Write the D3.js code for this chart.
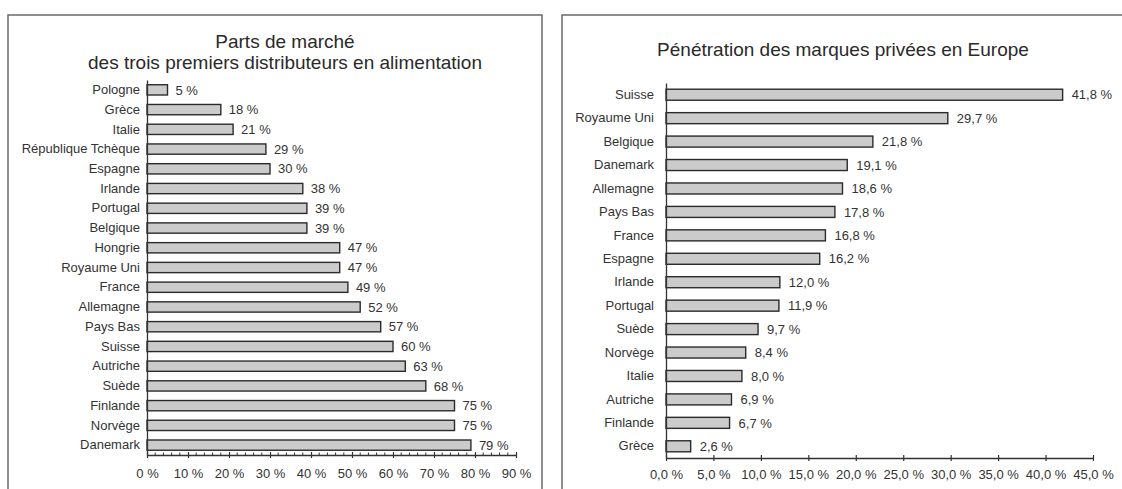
<!DOCTYPE html>
<html>
<head>
<meta charset="utf-8">
<script src="https://cdn.jsdelivr.net/npm/d3@7"></script>
<style>
  html, body { margin: 0; padding: 0; background: #fff; }
  svg { display: block; font-family: "Liberation Sans", Arial, Helvetica, sans-serif; }
</style>
</head>
<body>
<svg id="chart" width="1122" height="489"></svg>
<script>
// Parts de marché des trois premiers distributeurs
const partsPays = ["Pologne", "Grèce", "Italie", "République Tchèque", "Espagne", "Irlande",
  "Portugal", "Belgique", "Hongrie", "Royaume Uni", "France", "Allemagne", "Pays Bas",
  "Suisse", "Autriche", "Suède", "Finlande", "Norvège", "Danemark"];
const partsValeurs = [5, 18, 21, 29, 30, 38, 39, 39, 47, 47, 49, 52, 57, 60, 63, 68, 75, 75, 79];
const partsTicks = [0, 10, 20, 30, 40, 50, 60, 70, 80, 90];

// Pénétration des marques privées
const mdpPays = ["Suisse", "Royaume Uni", "Belgique", "Danemark", "Allemagne", "Pays Bas",
  "France", "Espagne", "Irlande", "Portugal", "Suède", "Norvège", "Italie", "Autriche",
  "Finlande", "Grèce"];
const mdpValeurs = [41.8, 29.7, 21.8, 19.1, 18.6, 17.8, 16.8, 16.2, 12.0, 11.9, 9.7, 8.4, 8.0, 6.9, 6.7, 2.6];
const mdpTicks = [0, 5, 10, 15, 20, 25, 30, 35, 40, 45];

const svg = d3.select("#chart");
const fr = d3.format(".1f");
const frComma = v => fr(v).replace(".", ",");
const FONT = "'Liberation Sans', Arial, sans-serif";

function panel(cfg) {
  const g = svg.append("g");
  // frame
  g.append("rect")
    .attr("x", cfg.frame[0]).attr("y", cfg.frame[1])
    .attr("width", cfg.frame[2]).attr("height", cfg.frame[3])
    .attr("fill", "none").attr("stroke", "#6a6a6a").attr("stroke-width", 1.5);

  // title
  cfg.title.forEach((t, i) => {
    g.append("text")
      .attr("x", cfg.titleX).attr("y", cfg.titleY + i * 20.5)
      .attr("text-anchor", "middle")
      .attr("font-size", 19).attr("fill", "#2a2a2a")
      .text(t);
  });

  const x = d3.scaleLinear().domain(cfg.domain).range([cfg.x0, cfg.x1]);
  const y = d3.scaleBand().domain(cfg.cats).range([cfg.y0, cfg.y1]).paddingInner(cfg.pad).paddingOuter(cfg.pad / 2);

  // bars
  g.selectAll("rect.bar").data(cfg.values).join("rect")
    .attr("class", "bar")
    .attr("x", x(0))
    .attr("y", (d, i) => y(cfg.cats[i]))
    .attr("width", d => x(d) - x(0))
    .attr("height", y.bandwidth())
    .attr("fill", "#cbcbcb").attr("stroke", "#2b2b2b").attr("stroke-width", 1.4);

  // value labels
  g.selectAll("text.val").data(cfg.values).join("text")
    .attr("class", "val")
    .attr("x", d => x(d) + cfg.labelGap)
    .attr("y", (d, i) => y(cfg.cats[i]) + y.bandwidth() / 2)
    .attr("dy", "0.36em")
    .attr("font-size", 13).attr("fill", "#333")
    .text(d => cfg.fmt(d) + " %");

  // category axis
  const ya = g.append("g").attr("transform", `translate(${x(0)},0)`)
    .call(d3.axisLeft(y).tickSize(0).tickPadding(cfg.catPad));
  ya.select(".domain").attr("stroke", "#333").attr("stroke-width", 1.3);
  ya.selectAll("text").attr("font-size", 13).attr("fill", "#333").attr("font-family", FONT);

  // value axis
  const axisY = cfg.y1;
  if (cfg.minor) {
    const minorTicks = d3.range(cfg.domain[0], cfg.domain[1] + 0.001, cfg.minor)
      .filter(v => !cfg.ticks.includes(v));
    g.append("g").selectAll("line").data(minorTicks).join("line")
      .attr("x1", d => x(d)).attr("x2", d => x(d))
      .attr("y1", axisY - 2.5).attr("y2", axisY)
      .attr("stroke", "#333").attr("stroke-width", 1);
  }
  const xa = g.append("g").attr("transform", `translate(0,${axisY})`)
    .call(d3.axisBottom(x).tickValues(cfg.ticks).tickSizeInner(3).tickSizeOuter(0)
      .tickPadding(cfg.tickPad).tickFormat(d => cfg.tickFmt(d) + " %"));
  xa.select(".domain").attr("stroke", "#333").attr("stroke-width", 1.3);
  xa.selectAll(".tick line").attr("stroke", "#333").attr("stroke-width", 1.2).attr("y1", -3);
  xa.selectAll("text").attr("font-size", 13).attr("fill", "#333").attr("font-family", FONT);
}

panel({
  frame: [8, 15, 534, 490],
  title: ["Parts de marché", "des trois premiers distributeurs en alimentation"],
  titleX: 285, titleY: 48,
  cats: partsPays, values: partsValeurs, domain: [0, 90], ticks: partsTicks,
  x0: 147, x1: 516, y0: 80, y1: 455, pad: 0.48,
  labelGap: 8, fmt: d3.format("d"), tickFmt: d3.format("d"),
  minor: 2, catPad: 7, tickPad: 11
});

panel({
  frame: [562, 15, 570, 490],
  title: ["Pénétration des marques privées en Europe"],
  titleX: 843, titleY: 56,
  cats: mdpPays, values: mdpValeurs, domain: [0, 45], ticks: mdpTicks,
  x0: 666, x1: 1093, y0: 83, y1: 458, pad: 0.53,
  labelGap: 9, fmt: frComma, tickFmt: frComma,
  minor: 0, catPad: 12, tickPad: 9
});
</script>
</body>
</html>
